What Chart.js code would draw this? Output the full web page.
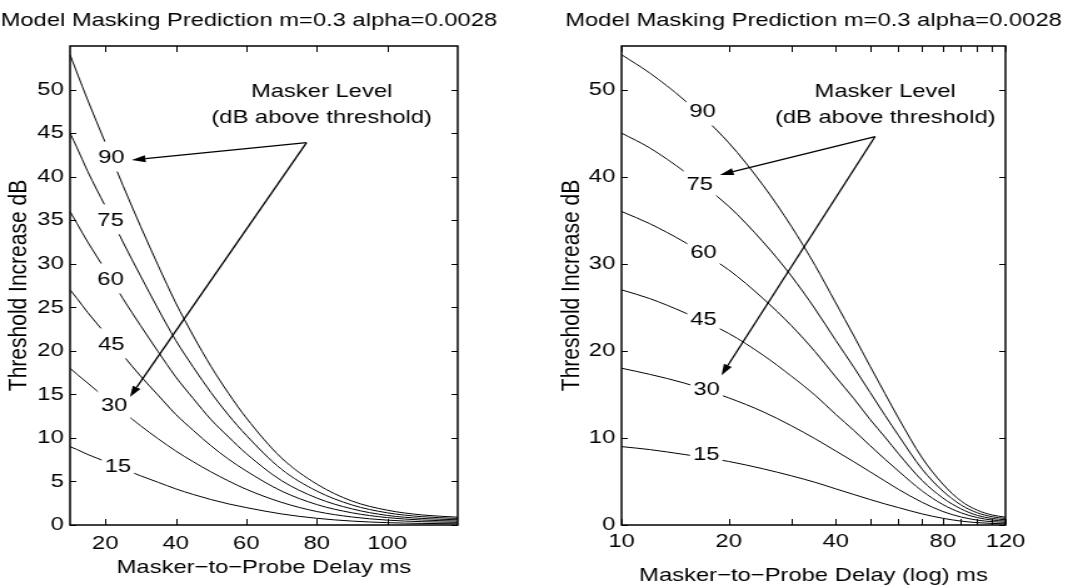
<!DOCTYPE html>
<html lang="en">
<head>
  <meta charset="UTF-8">
  <title>Model Masking Prediction</title>
  <script src="https://cdn.jsdelivr.net/npm/chart.js"></script>
  <style>
    body { margin: 0; background: #fff; }
    .pane { position: absolute; top: 0; width: 534px; height: 587px; }
    .pane canvas { width: 534px; height: 587px; }
  </style>
</head>
<body>
  <div class="pane" style="left:0"><canvas id="linChart" width="427" height="587" style="width:534px;height:587px"></canvas></div>
  <div class="pane" style="left:534px"><canvas id="logChart" width="427" height="587" style="width:534px;height:587px"></canvas></div>

  <script>
    const delays = [10, 12, 15, 20, 25, 30, 35, 40, 45, 50, 55, 60, 70, 80, 90, 100, 110, 120];
    const maskerLevels = [15, 30, 45, 60, 75, 90];
    const rise15 = [9, 8.66, 8.1, 7.3, 6.45, 5.65, 4.9, 4.15, 3.5, 2.92, 2.42, 2.0, 1.27, 0.77, 0.45, 0.27, 0.18, 0.14];
    const rise30 = [18, 17.3, 16.3, 14.6, 13.0, 11.4, 9.9, 8.5, 7.25, 6.1, 5.05, 4.1, 2.6, 1.55, 0.92, 0.56, 0.38, 0.3];
    const rise45 = [27, 26.0, 24.4, 22.0, 19.5, 17.1, 14.9, 12.7, 10.85, 9.1, 7.55, 6.2, 3.9, 2.35, 1.4, 0.85, 0.57, 0.45];
    const rise60 = [36, 34.6, 32.5, 29.3, 26.0, 22.9, 19.9, 17.0, 14.5, 12.1, 10.1, 8.2, 5.1, 3.1, 1.85, 1.1, 0.75, 0.6];
    const rise75 = [45, 43.3, 40.6, 36.6, 32.5, 28.6, 24.8, 21.2, 18.1, 15.2, 12.6, 10.3, 6.4, 3.9, 2.3, 1.4, 0.95, 0.75];
    const rise90 = [54, 51.9, 48.8, 43.9, 39.0, 34.3, 29.8, 25.5, 21.7, 18.2, 15.1, 12.3, 7.7, 4.7, 2.75, 1.7, 1.15, 0.9];
    const allRises = [rise15, rise30, rise45, rise60, rise75, rise90];

    const linTicksX = [20, 40, 60, 80, 100];
    const linTicksY = [0, 5, 10, 15, 20, 25, 30, 35, 40, 45, 50];
    const logTicksX = [10, 20, 30, 40, 50, 60, 70, 80, 90, 100, 110, 120];
    const logLabelsX = [10, 20, 40, 80, 120];
    const logTicksY = [0, 10, 20, 30, 40, 50];

    // where the level labels sit on each curve (delay, dB), same order as maskerLevels
    const linLabelAt = [[23.6, 6.8], [22.5, 13.8], [21.7, 20.85], [21.5, 28.3], [21.5, 35.1], [21.7, 42.3]];
    const logLabelAt = [[17.3, 8.2], [17.35, 15.7], [17.0, 23.7], [17.0, 31.4], [16.6, 39.2], [16.9, 47.6]];

    // annotation text and arrows (delay, dB)
    const linNoteAt = [81.4, 49.8];
    const linArrowFrom = [77.1, 43.9];
    const linArrowTo = [[27.5, 41.9], [27.0, 14.7]];
    const logNoteAt = [55.1, 49.8];
    const logArrowFrom = [51.6, 44.6];
    const logArrowTo = [[18.9, 40.2], [19.1, 17.2]];

    const TITLE = 'Model Masking Prediction m=0.3 alpha=0.0028';
    const S = 534 / 427;          // the figure is stretched sideways
    const FONT = '"Liberation Sans", Arial, Helvetica, sans-serif';
    const FS = 19;

    Chart.defaults.font.family = FONT;
    Chart.defaults.font.size = FS;
    Chart.defaults.color = '#000';

    function arrow(ctx, x0, y0, x1, y1) {
      const a = Math.atan2(y1 - y0, x1 - x0);
      const len = 11, half = 3.5;
      const bx = x1 - len * Math.cos(a), by = y1 - len * Math.sin(a);
      ctx.beginPath();
      ctx.moveTo(x0, y0);
      ctx.lineTo(bx, by);
      ctx.stroke();
      ctx.beginPath();
      ctx.moveTo(x1, y1);
      ctx.lineTo(bx + half * Math.sin(a), by - half * Math.cos(a));
      ctx.lineTo(bx - half * Math.sin(a), by + half * Math.cos(a));
      ctx.closePath();
      ctx.fill();
    }

    const matlabLook = {
      id: 'matlabLook',
      afterDatasetsDraw(chart, args, o) {
        const { ctx, scales: { x, y } } = chart;
        ctx.save();
        ctx.font = `${FS}px ${FONT}`;
        ctx.textAlign = 'center';
        ctx.textBaseline = 'middle';
        o.labels.forEach((p, i) => {
          const px = x.getPixelForValue(p[0]), py = y.getPixelForValue(p[1]);
          ctx.fillStyle = '#fff';
          ctx.fillRect(px - 13, py - 15, 26, 30);
          ctx.fillStyle = '#000';
          ctx.fillText(String(maskerLevels[i]), px, py + 1);
        });
        ctx.restore();
      },
      afterDraw(chart, args, o) {
        const { ctx, chartArea: a, scales: { x, y } } = chart;
        ctx.save();
        ctx.strokeStyle = '#000';
        ctx.fillStyle = '#000';
        ctx.lineWidth = 1;
        ctx.beginPath();
        o.ticksX.forEach(v => {
          const px = Math.round(x.getPixelForValue(v)) + 0.5;
          ctx.moveTo(px, a.bottom); ctx.lineTo(px, a.bottom - 6);
          ctx.moveTo(px, a.top); ctx.lineTo(px, a.top + 6);
        });
        o.ticksY.forEach(v => {
          const py = Math.round(y.getPixelForValue(v)) + 0.5;
          ctx.moveTo(a.left, py); ctx.lineTo(a.left + 5, py);
          ctx.moveTo(a.right, py); ctx.lineTo(a.right - 5, py);
        });
        ctx.stroke();
        ctx.lineWidth = 1.5;
        ctx.strokeRect(a.left, a.top, a.right - a.left, a.bottom - a.top);

        ctx.font = `${FS}px ${FONT}`;
        ctx.textAlign = 'center';
        ctx.textBaseline = 'middle';
        ctx.fillText(TITLE, (a.left + a.right) / 2 + o.titleShift, 21);

        const nx = x.getPixelForValue(o.note[0]), ny = y.getPixelForValue(o.note[1]);
        ctx.fillText('Masker Level', nx, ny);
        ctx.fillText('(dB above threshold)', nx, ny + 26);

        ctx.lineWidth = 1.3;
        const fx = x.getPixelForValue(o.from[0]), fy = y.getPixelForValue(o.from[1]);
        o.to.forEach(t => arrow(ctx, fx, fy, x.getPixelForValue(t[0]), y.getPixelForValue(t[1])));
        ctx.restore();
      }
    };

    function curveSets() {
      return allRises.map((r, i) => ({
        label: maskerLevels[i] + ' dB',
        data: delays.map((d, j) => ({ x: d, y: r[j] })),
        borderColor: '#000',
        borderWidth: 1,
        pointRadius: 0,
        fill: false,
        cubicInterpolationMode: 'monotone'
      }));
    }

    function makeChart(id, cfg) {
      return new Chart(document.getElementById(id), {
        type: 'line',
        data: { datasets: curveSets() },
        options: {
          responsive: false,
          animation: false,
          events: [],
          layout: { padding: { left: 0, right: cfg.padRight, top: 46, bottom: 0 } },
          plugins: {
            legend: { display: false },
            tooltip: { enabled: false },
            matlabLook: cfg.look
          },
          scales: {
            x: {
              type: cfg.xType,
              min: 10,
              max: 120,
              afterBuildTicks: s => { s.ticks = cfg.ticksX.map(v => ({ value: v })); },
              afterFit: s => { s.height = 62; },
              grid: { display: false, drawTicks: false },
              border: { display: false },
              ticks: {
                autoSkip: false,
                maxRotation: 0,
                padding: cfg.xTickPad,
                callback: v => cfg.xLabels.includes(v) ? String(v) : ''
              },
              title: { display: true, text: cfg.xTitle, padding: { top: 0, bottom: cfg.xTitlePad } }
            },
            y: {
              type: 'linear',
              min: 0,
              max: 55,
              afterBuildTicks: s => { s.ticks = cfg.ticksY.map(v => ({ value: v })); },
              afterFit: s => { s.width = cfg.yWidth; },
              grid: { display: false, drawTicks: false },
              border: { display: false },
              ticks: { padding: 5 },
              title: { display: true, text: 'Threshold Increase dB', font: { size: 21 }, padding: { top: cfg.yTitlePad, bottom: 0 } }
            }
          }
        },
        plugins: [matlabLook]
      });
    }

    makeChart('linChart', {
      xType: 'linear',
      ticksX: linTicksX,
      xLabels: linTicksX,
      ticksY: linTicksY,
      xTitle: 'Masker\u2212to\u2212Probe Delay ms',
      yWidth: Math.round(70 / S),
      padRight: Math.round(427 - 458 / S),
      xTickPad: 7,
      xTitlePad: 8,
      yTitlePad: 3,
      look: { labels: linLabelAt, ticksX: linTicksX, ticksY: linTicksY, note: linNoteAt, from: linArrowFrom, to: linArrowTo, titleShift: -12 }
    });

    makeChart('logChart', {
      xType: 'logarithmic',
      ticksX: logTicksX,
      xLabels: logLabelsX,
      ticksY: logTicksY,
      xTitle: 'Masker\u2212to\u2212Probe Delay (log) ms',
      yWidth: Math.round(88 / S),
      padRight: Math.round(427 - 471 / S),
      xTickPad: 5,
      xTitlePad: 0,
      yTitlePad: 18,
      look: { labels: logLabelAt, ticksX: logTicksX, ticksY: logTicksY, note: logNoteAt, from: logArrowFrom, to: logArrowTo, titleShift: 0 }
    });
  </script>
</body>
</html>
